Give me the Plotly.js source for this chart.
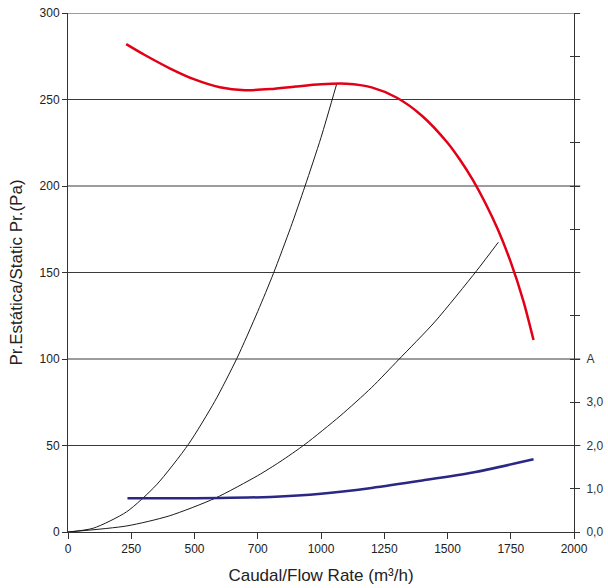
<!DOCTYPE html>
<html>
<head>
<meta charset="utf-8">
<script src="https://cdn.plot.ly/plotly-3.0.1.min.js"></script>
<style>html,body{margin:0;padding:0;background:#fff;}#chart{width:608px;height:588px;}</style>
</head>
<body>
<div id="chart"></div>
<script>
// Fan curve: static pressure (Pa) vs flow rate (m3/h)
const pressureFlow = [230, 300, 400, 500, 600, 700, 800, 900, 1000, 1100, 1200, 1300, 1400, 1500, 1550, 1600, 1650, 1700, 1750, 1800, 1840];
const pressureVals = [282, 276, 268.2, 261.6, 257.1, 255.4, 256, 257.5, 258.8, 259.1, 257, 251, 240.5, 225, 215, 203.5, 190, 174.5, 156, 133.5, 111];

// Current (A) vs flow rate
const currentFlow = [235, 400, 600, 800, 1000, 1200, 1400, 1600, 1840];
const currentVals = [0.78, 0.78, 0.785, 0.812, 0.885, 1.02, 1.19, 1.375, 1.68];

// System curves
const sys1Flow = [0, 100, 232, 350, 476, 580, 667, 750, 812, 880, 937, 1000, 1062];
const sys1Vals = [0, 2.2, 11.7, 27.3, 50.7, 75.5, 100.2, 127.5, 149.5, 176, 200, 228, 259];
const sys2Flow = [0, 232, 400, 581, 750, 838, 937, 1075, 1200, 1306, 1450, 1615, 1701];
const sys2Vals = [0, 3.5, 9.3, 19.5, 32.6, 40.6, 50.7, 67, 83.5, 99.5, 121.5, 151, 167.5];

// Axis ticks
const xTickVals = [0, 250, 500, 750, 1000, 1250, 1500, 1750, 2000];
const xTickText = ['0', '250', '500', '700', '1000', '1250', '1500', '1750', '2000'];
const yTickVals = [0, 50, 100, 150, 200, 250, 300];
const y2TickVals = [0, 1, 2, 3, 4, 5, 6, 7, 8, 9, 10, 11, 12];
const y2TickText = ['0,0', '1,0', '2,0', '3,0', 'A', '', '', '', '', '', '', '', ''];

const FONT = 'Liberation Sans, Arial, Helvetica, sans-serif';

const traces = [
  {x: sys1Flow, y: sys1Vals, type: 'scatter', mode: 'lines', line: {color: '#1a1a1a', width: 1, shape: 'spline', smoothing: 0.7}, hoverinfo: 'skip'},
  {x: sys2Flow, y: sys2Vals, type: 'scatter', mode: 'lines', line: {color: '#1a1a1a', width: 1, shape: 'spline', smoothing: 0.7}, hoverinfo: 'skip'},
  {x: currentFlow, y: currentVals, yaxis: 'y2', type: 'scatter', mode: 'lines', line: {color: '#2a2785', width: 2.5, shape: 'spline', smoothing: 0.7}},
  {x: pressureFlow, y: pressureVals, type: 'scatter', mode: 'lines', line: {color: '#e30016', width: 2.5, shape: 'spline', smoothing: 0.8}},
  {x: [0], y: [0], yaxis: 'y3', type: 'scatter', mode: 'markers', marker: {opacity: 0}, hoverinfo: 'skip'}
];

const shapes = yTickVals.filter(v => v > 0).map(v => ({
  type: 'line', xref: 'paper', yref: 'y', x0: 0, x1: 1.0125, y0: v, y1: v,
  line: {color: '#3a3a3a', width: 1}, layer: 'below'
}));

const layout = {
  width: 608, height: 588,
  margin: {l: 68, r: 34, t: 13, b: 56},
  paper_bgcolor: '#fff', plot_bgcolor: '#fff',
  showlegend: false,
  font: {family: FONT, size: 12, color: '#222'},
  xaxis: {
    range: [0, 2000], tickvals: xTickVals, ticktext: xTickText,
    showgrid: false, zeroline: false, showline: true, linecolor: '#333', linewidth: 1,
    ticks: 'outside', ticklen: 6, tickcolor: '#333',
    tickfont: {size: 12, color: '#222'},
    title: {text: 'Caudal/Flow Rate (m³/h)', font: {size: 17, color: '#222'}, standoff: 13},
    automargin: false
  },
  yaxis: {
    range: [0, 300], tickvals: yTickVals,
    showgrid: false, zeroline: false, showline: true, linecolor: '#333', linewidth: 1,
    ticks: 'outside', ticklen: 5, tickcolor: '#333',
    tickfont: {size: 12, color: '#222'},
    title: {text: 'Pr.Estática/Static Pr.(Pa)', font: {size: 17, color: '#222'}, standoff: 12},
    automargin: false
  },
  yaxis2: {
    range: [0, 12], overlaying: 'y', side: 'right',
    tickvals: y2TickVals, ticktext: y2TickText,
    showgrid: false, zeroline: false, showline: true, linecolor: '#333', linewidth: 1,
    ticks: 'outside', ticklen: 5, tickcolor: '#333',
    ticklabelstandoff: 4,
    tickfont: {size: 12, color: '#333'},
    automargin: false
  },
  yaxis3: {
    range: [0, 12], overlaying: 'y', side: 'right',
    tickvals: y2TickVals, showticklabels: false,
    showgrid: false, zeroline: false, showline: false,
    ticks: 'inside', ticklen: 4, tickcolor: '#333',
    automargin: false
  },
  shapes: shapes
};

Plotly.newPlot('chart', traces, layout, {staticPlot: true, displayModeBar: false});
</script>
</body>
</html>
